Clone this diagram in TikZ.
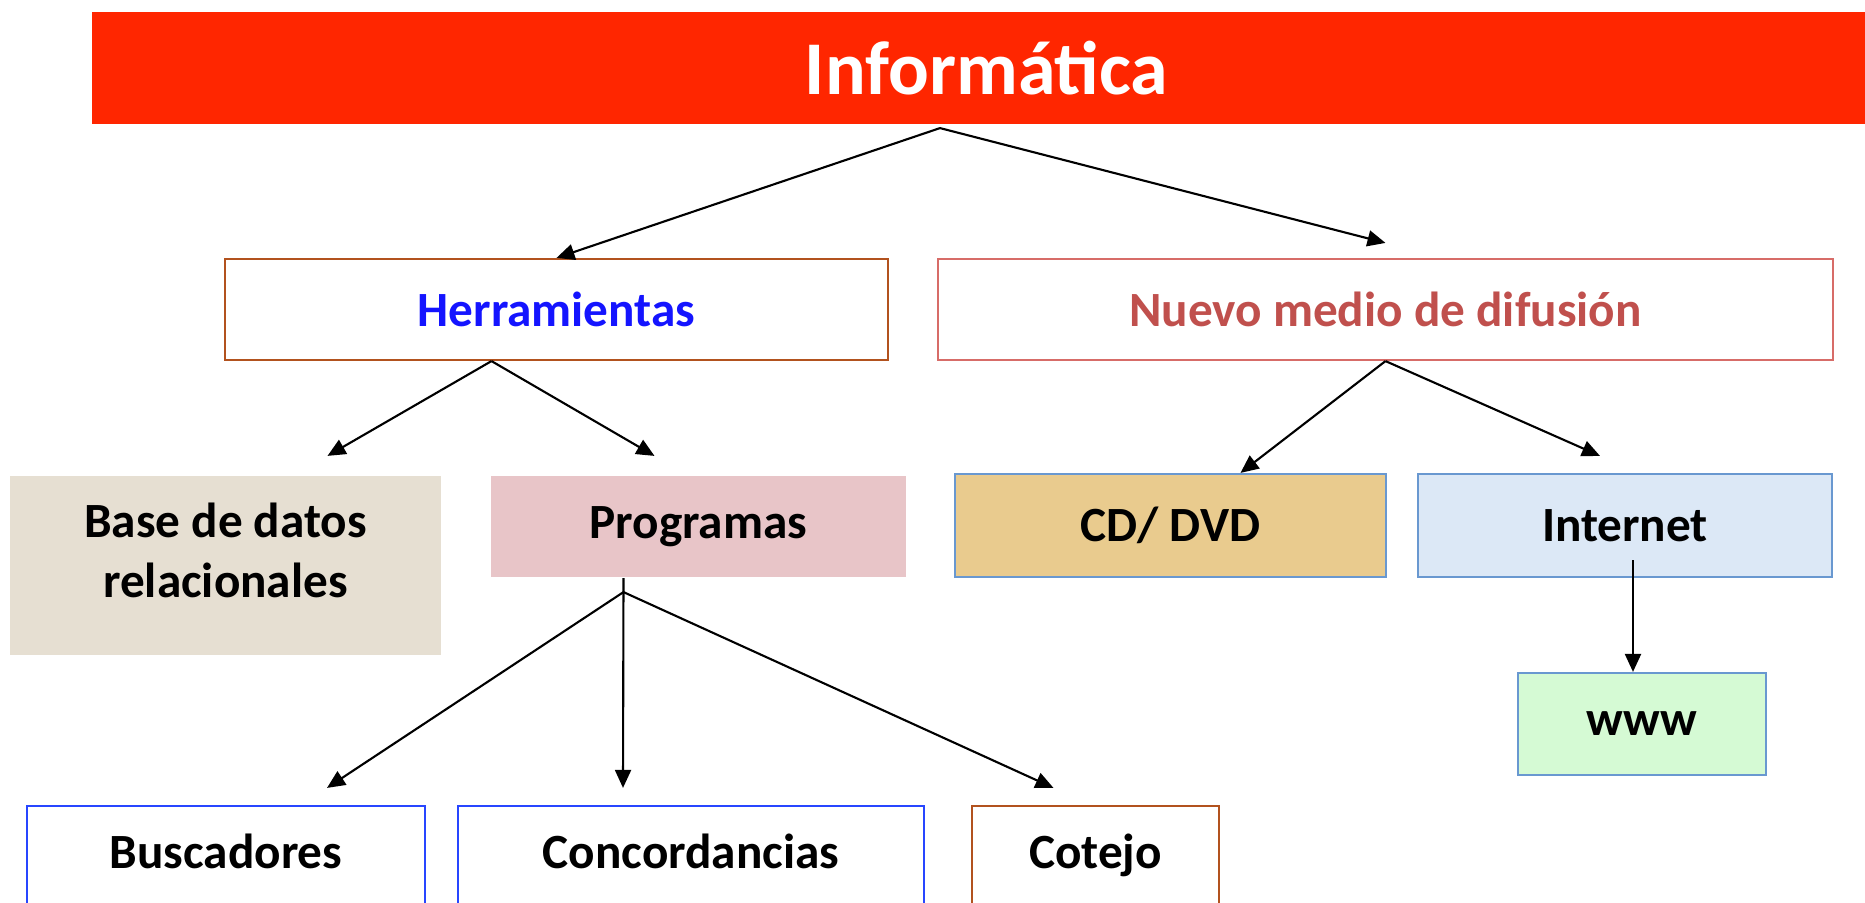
\documentclass[tikz,border=0pt]{standalone}
\usepackage{fontspec}
\setmainfont{Carlito}
\usetikzlibrary{arrows.meta,calc}

\definecolor{banner}{RGB}{255,38,0}
\definecolor{herText}{RGB}{20,20,255}
\definecolor{herLine}{RGB}{178,82,30}
\definecolor{nueText}{RGB}{192,80,77}
\definecolor{nueLine}{RGB}{215,108,104}
\definecolor{baseFill}{RGB}{230,223,210}
\definecolor{progFill}{RGB}{232,197,200}
\definecolor{cdFill}{RGB}{233,203,142}
\definecolor{netFill}{RGB}{220,232,246}
\definecolor{wwwFill}{RGB}{213,250,212}
\definecolor{paleBlue}{RGB}{105,152,208}
\definecolor{deepBlue}{RGB}{40,70,255}

\tikzstyle{box}=[rectangle,inner sep=0pt,line width=0.6pt,align=center,font=\fontsize{14}{17}\selectfont\bfseries]
\tikzstyle{leaf}=[box,text height=0.33cm,text depth=0.09cm]
\tikzstyle{edge}=[draw,line width=0.6pt,-{Triangle[length=0.18cm,width=0.16cm]}]

\begin{document}
\begin{tikzpicture}[x=0.01cm,y=-0.01cm]
	\useasboundingbox (0,0) rectangle (1865,903);
	\clip (0,0) rectangle (1865,903);
			\node[box,fill=banner,text=white,minimum width=17.72cm,minimum height=1.12cm,font=\fontsize{21.6}{26}\selectfont\bfseries] (inf) at (979,68) {\hspace{0.15cm}Informática};
			\node[box,draw=herLine,text=herText,minimum width=6.63cm,minimum height=1.01cm] (her) at (556.5,309.5) {Herramientas};
			\node[box,draw=nueLine,text=nueText,minimum width=8.95cm,minimum height=1.01cm] (nue) at (1385.5,309.5) {Nuevo medio de difusión};
			\node[box,fill=baseFill,minimum width=4.31cm,minimum height=1.79cm,text depth=0.3cm] (base) at (225.5,565.5) {Base de datos\\relacionales};
			\node[box,fill=progFill,minimum width=4.15cm,minimum height=1.01cm] (prog) at (698.5,526.5) {Programas};
			\node[box,fill=cdFill,draw=paleBlue,minimum width=4.31cm,minimum height=1.03cm] (cd) at (1170.5,525.5) {CD/ DVD};
			\node[box,fill=netFill,draw=paleBlue,minimum width=4.14cm,minimum height=1.03cm] (net) at (1625,525.5) {Internet};
			\node[box,fill=wwwFill,draw=paleBlue,minimum width=2.48cm,minimum height=1.02cm] (www) at (1642,724) {www};
			\node[leaf,draw=deepBlue,minimum width=3.98cm,minimum height=1cm] (bus) at (226,856) {Buscadores};
			\node[leaf,draw=deepBlue,minimum width=4.66cm,minimum height=1cm] (con) at (691,856) {Concordancias};
			\node[leaf,draw=herLine,minimum width=2.47cm,minimum height=1cm] (cot) at (1095.5,856) {Cotejo};
	    		% Where the arrows start and end
			\coordinate (i0) at ($(inf.south)+(-39,3)$);
			\coordinate (n1) at ($(nue.north)+(0,-15)$);
			\coordinate (h0) at ($(her.south)+(-65,0)$);
			\coordinate (b1) at ($(base.north)+(102,-19)$);
			\coordinate (p1) at ($(prog.north)+(-44,-19)$);
			\coordinate (c1) at ($(cd.north)+(70,0)$);
			\coordinate (t1) at ($(net.north)+(-25,-17)$);
			\coordinate (t0) at ($(net.south)+(8,-18)$);
			\coordinate (w1) at ($(www.north)+(-9,0)$);
			\coordinate (p0) at ($(prog.south)+(-75,0)$);
			\coordinate (pj) at ($(prog.south)+(-75,14)$);
			\coordinate (s1) at ($(bus.north)+(101,-17)$);
			\coordinate (k1) at ($(con.north)+(-68,-17)$);
			\coordinate (o1) at ($(cot.north)+(-42,-17)$);
	   		 % Connect the boxes
	   		\foreach \source/ \dest in {i0/her.north, i0/n1, h0/b1, h0/p1, nue.south/c1, nue.south/t1, t0/w1, p0/k1, pj/s1, pj/o1}
	        		\path[edge] (\source) -- (\dest);
		\end{tikzpicture}
\end{document}
